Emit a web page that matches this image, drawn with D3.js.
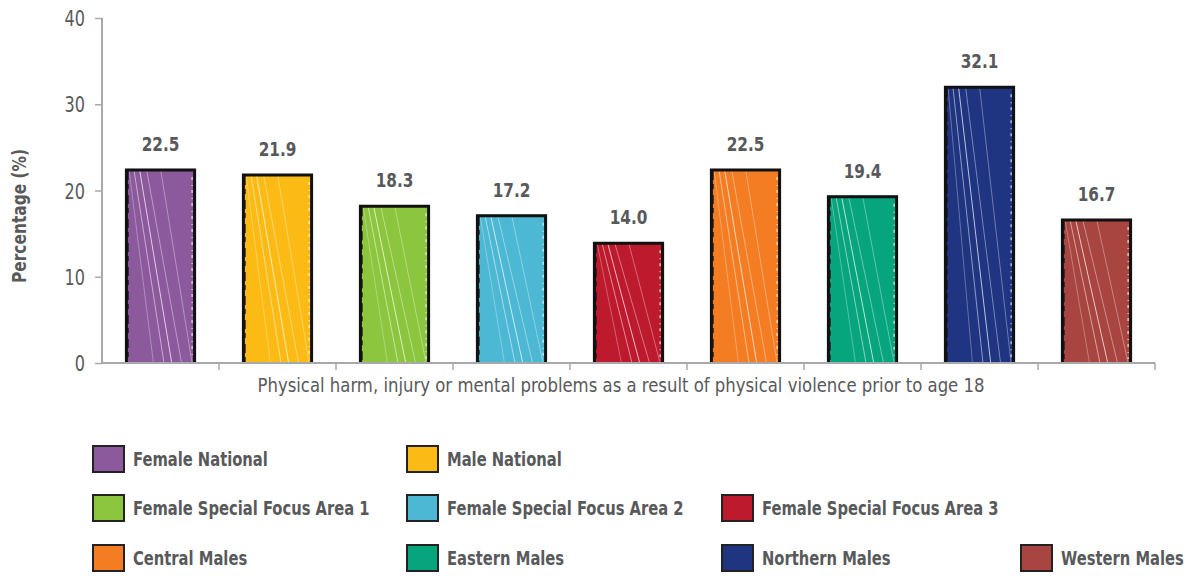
<!DOCTYPE html>
<html>
<head>
<meta charset="utf-8">
<script src="https://cdn.jsdelivr.net/npm/d3@7"></script>
<style>
  body { margin: 0; background: #fff; }
  svg { display: block; }
  text { font-family: "DejaVu Sans Condensed", "DejaVu Sans", sans-serif; font-stretch: condensed; fill: #58595b; }
</style>
</head>
<body>
<script>
// chart data
var groups = ["Female National", "Male National", "Female Special Focus Area 1",
    "Female Special Focus  Area 2", "Female Special Focus Area 3",
    "Central Males", "Eastern Males", "Northern Males", "Western Males"];
var values = [22.5, 21.9, 18.3, 17.2, 14.0, 22.5, 19.4, 32.1, 16.7];
var colors = ["#8c5a9c", "#fcbb14", "#8cc63e", "#4db8d3", "#bd1a2e",
    "#f47c22", "#07a57d", "#1f3581", "#a94540"];
var yTicks = [0, 10, 20, 30, 40];
var xTitle = "Physical harm, injury or mental problems as a result of physical violence prior to age 18";
var yTitle = "Percentage (%)";

// legend layout: which row / column each entry sits in
var legendRow = [0, 0, 1, 1, 1, 2, 2, 2, 2];
var legendCol = [0, 1, 0, 1, 2, 0, 1, 2, 3];
var colX = [93, 407, 722, 1021];
var rowY = [446, 495, 545];

var W = 1195, H = 576;
var svg = d3.select("body").append("svg")
    .attr("width", W)
    .attr("height", H);

// squeeze a text to a narrower width so it reads like a condensed face
function squeeze(sel, k) {
    sel.each(function() {
        var len = this.getComputedTextLength();
        d3.select(this).attr("textLength", len * k)
            .attr("lengthAdjust", "spacingAndGlyphs");
    });
}

var x = d3.scaleBand()
    .domain(groups)
    .range([102, 1155])
    .paddingInner(0.4)
    .paddingOuter(0.2);

var y = d3.scaleLinear()
    .domain([0, 40])
    .range([363, 18]);

var defs = svg.append("defs");

// bars
var bars = svg.append("g").attr("class", "bars");
groups.forEach(function(g, i) {
    var x0 = x(g), bw = x.bandwidth();
    var top = y(values[i]), bot = y(0);
    var h = bot - top;

    defs.append("clipPath").attr("id", "clip" + i)
        .append("rect")
        .attr("x", x0).attr("y", top)
        .attr("width", bw).attr("height", h);

    var bar = bars.append("g");
    bar.append("rect")
        .attr("x", x0).attr("y", top)
        .attr("width", bw).attr("height", h)
        .attr("fill", colors[i]);

    // white streaks running down to the right
    var streaks = bar.append("g").attr("clip-path", "url(#clip" + i + ")");
    [[0.12, 0.55, 0.5], [0.2, 0.66, 0.7], [0.3, 0.8, 0.4], [0.5, 0.95, 0.35],
     [0.05, 0.4, 0.3]].forEach(function(s) {
        streaks.append("line")
            .attr("x1", x0 + bw * s[0]).attr("y1", top)
            .attr("x2", x0 + bw * s[1]).attr("y2", bot)
            .attr("stroke", "#fff")
            .attr("stroke-opacity", s[2])
            .attr("stroke-width", 1);
    });

    // sketchy dark outline, heavier on the left
    bar.append("path")
        .attr("d", "M" + (x0 + 1) + "," + bot + "V" + (top + 1) +
            "H" + (x0 + bw - 1) + "V" + bot)
        .attr("fill", "none")
        .attr("stroke", "#111")
        .attr("stroke-width", 3)
        .attr("stroke-linejoin", "miter");
    bar.append("line")
        .attr("x1", x0 + 2.5).attr("y1", top + 2)
        .attr("x2", x0 + 2.5).attr("y2", bot)
        .attr("stroke", "#111")
        .attr("stroke-width", 1.5)
        .attr("stroke-dasharray", "9,4,5,6");
    // speckled right edge
    bar.append("line")
        .attr("x1", x0 + bw - 3.5).attr("y1", top + 8)
        .attr("x2", x0 + bw - 3.5).attr("y2", bot - 4)
        .attr("stroke", "#fff")
        .attr("stroke-opacity", 0.8)
        .attr("stroke-width", 1.2)
        .attr("stroke-dasharray", "3,5,1,4");

    bar.append("text")
        .attr("class", "val")
        .attr("x", x0 + bw / 2)
        .attr("y", top - 18)
        .attr("text-anchor", "middle")
        .style("font-size", "20px")
        .style("font-weight", "bold")
        .text(values[i].toFixed(1));
});

// y axis
var yAxis = svg.append("g")
    .attr("transform", "translate(102,0)")
    .call(d3.axisLeft(y).tickValues(yTicks).tickSize(7).tickPadding(10));
yAxis.select(".domain").attr("stroke", "#a7a9ac").attr("stroke-width", 2)
    .attr("d", "M0," + y(40) + "V" + y(0));
yAxis.selectAll(".tick line").attr("stroke", "#a7a9ac").attr("stroke-width", 1.5);
yAxis.selectAll(".tick text")
    .style("font-size", "21px")
    .attr("font-family", null)
    .attr("fill", "#58595b")
    .attr("dy", "0.36em");

// x axis: ticks at band edges
var edges = groups.map(function(g) { return x(g) - x.step() * x.paddingInner() / 2; });
edges.shift();
edges.push(1155);
var xAxis = svg.append("g").attr("transform", "translate(0," + y(0) + ")");
xAxis.append("line")
    .attr("x1", 102).attr("x2", 1155)
    .attr("stroke", "#a7a9ac").attr("stroke-width", 2);
xAxis.selectAll(".edge").data(edges).enter().append("line")
    .attr("class", "edge")
    .attr("x1", function(d) { return d; }).attr("x2", function(d) { return d; })
    .attr("y1", 0).attr("y2", 7)
    .attr("stroke", "#a7a9ac").attr("stroke-width", 1.5);

svg.append("text")
    .attr("x", 621)
    .attr("y", 392)
    .attr("text-anchor", "middle")
    .style("font-size", "20px")
    .attr("textLength", 727)
    .attr("lengthAdjust", "spacingAndGlyphs")
    .text(xTitle);

svg.append("text")
    .attr("transform", "translate(26,216) rotate(-90)")
    .attr("text-anchor", "middle")
    .style("font-size", "20px")
    .style("font-weight", "bold")
    .attr("fill", "#6d6e71")
    .attr("textLength", 134)
    .attr("lengthAdjust", "spacingAndGlyphs")
    .text(yTitle);

// legend
var legend = svg.append("g").attr("class", "legend");
groups.forEach(function(g, i) {
    var lx = colX[legendCol[i]], ly = rowY[legendRow[i]];
    legend.append("rect")
        .attr("x", lx).attr("y", ly)
        .attr("width", 31).attr("height", 26)
        .attr("fill", colors[i])
        .attr("stroke", "#222")
        .attr("stroke-width", 2);
    // condensed look through a horizontal scale
    legend.append("text")
        .attr("class", "leg")
        .attr("transform", "translate(" + (lx + 40) + "," + (ly + 20) + ") scale(0.82,1)")
        .style("font-size", "20px")
        .style("font-weight", "bold")
        .text(g);
});

squeeze(svg.selectAll("text.val"), 0.85);
squeeze(yAxis.selectAll(".tick text"), 0.85);
</script>
</body>
</html>
